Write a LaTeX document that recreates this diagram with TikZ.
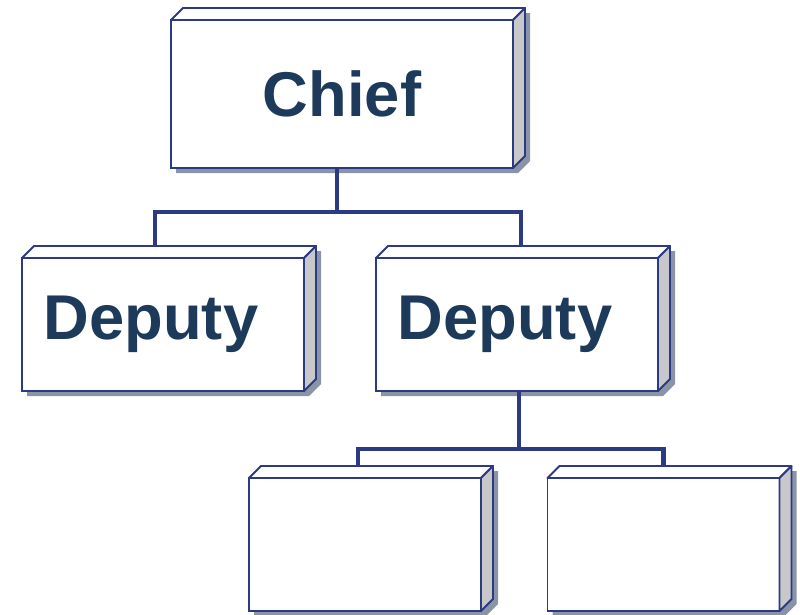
\documentclass[tikz,border=0pt]{standalone}
\usepackage{fontspec}
\setmainfont{Liberation Sans}
\usetikzlibrary{backgrounds}

\definecolor{navy}{HTML}{2B3A82}
\definecolor{ink}{HTML}{1E3A5A}
\definecolor{side}{HTML}{C8C8CA}
\definecolor{shadowgray}{HTML}{8A94A6}

\tikzset{
  post/.style={draw=navy, line width=1.4pt, fill=white, outer sep=0pt, inner sep=0pt},
  link/.style={draw=navy, line width=3.2pt},
  title/.style={text=ink, font=\fontsize{45}{54}\selectfont\bfseries}
}

\begin{document}
\begin{tikzpicture}[auto, thick]

    \useasboundingbox (0,0) rectangle (20,-15.35);

    \node[post, minimum width=8.55cm, minimum height=3.7cm, title] at (8.55,-2.35) (chief) {Chief};
    \node[post, minimum width=7.05cm, minimum height=3.325cm, label={[title, xshift=-0.3cm]center:Deputy}] at (4.075,-8.1125) (depL) {};
    \node[post, minimum width=7.05cm, minimum height=3.325cm, label={[title, xshift=-0.3cm]center:Deputy}] at (12.925,-8.1125) (depR) {};
    \node[post, minimum width=5.8cm, minimum height=3.325cm] at (9.125,-13.6125) (kidL) {};
    \node[post, minimum width=5.8cm, minimum height=3.325cm] at (16.5875,-13.6125) (kidR) {};

% depth faces and shadows
    \foreach \n in {chief, depL, depR, kidL, kidR} {
        \begin{pgfonlayer}{background}
        \fill[shadowgray] ([shift={(0.125,-0.125)}]\n.south west) -- ([shift={(0.125,-0.125)}]\n.north west) -- ([shift={(0.425,0.175)}]\n.north west) -- ([shift={(0.425,0.175)}]\n.north east) -- ([shift={(0.425,0.175)}]\n.south east) -- ([shift={(0.125,-0.125)}]\n.south east) -- cycle;
        \end{pgfonlayer}
        \draw[navy, line width=1.4pt, line join=round, fill=white] (\n.north west) -- ++(0.3,0.3) -- ([shift={(0.3,0.3)}]\n.north east) -- (\n.north east) -- cycle;
        \draw[navy, line width=1.4pt, line join=round, fill=side] (\n.north east) -- ++(0.3,0.3) -- ([shift={(0.3,0.3)}]\n.south east) -- (\n.south east) -- cycle;
    }

    \draw[link] ([xshift=-0.125cm]chief.south) -- ++(0,-1.1) -| ([xshift=-0.2cm, yshift=0.3cm]depL.north);
    \draw[link] ([xshift=-0.125cm]chief.south) -- ++(0,-1.1) -| ([xshift=0.1cm, yshift=0.3cm]depR.north);
    \draw[link] ([xshift=0.05cm]depR.south) -- ++(0,-1.45) -| ([xshift=-0.175cm, yshift=0.3cm]kidL.north);
    \draw[link] ([xshift=0.05cm]depR.south) -- ++(0,-1.45) -| ([yshift=0.3cm]kidR.north);

\end{tikzpicture}
\end{document}
